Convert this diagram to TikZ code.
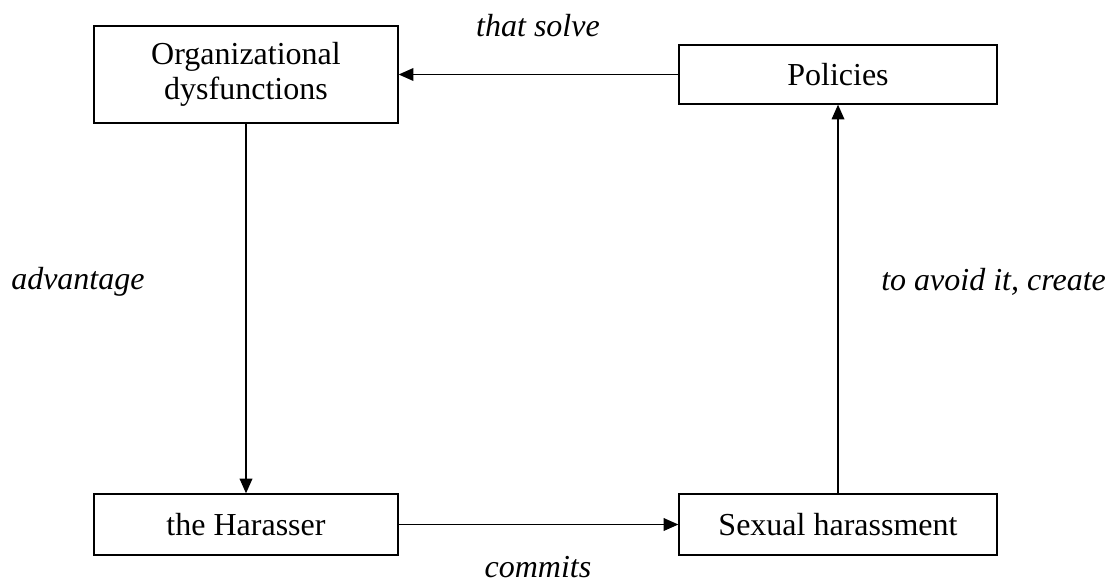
\documentclass[tikz,border=0pt]{standalone}
\usepackage{fontspec}
\setmainfont{Liberation Serif}
\usetikzlibrary{arrows.meta}
\begin{document}
\begin{tikzpicture}[x=0.75pt,y=-0.75pt,
  box/.style={draw,line width=1pt,inner sep=0pt,font=\fontsize{24}{26.5}\selectfont,align=center},
  lbl/.style={font=\fontsize{24}{26}\selectfont\itshape,inner sep=0pt},
  conn/.style={line width=1pt,-{Triangle[length=11pt,width=9.5pt]}}]
\useasboundingbox (0,0) rectangle (1112,585);
\node[box,minimum width=304*0.75pt,minimum height=97*0.75pt] (org) at (246,74.5) {Organizational\\dysfunctions};
\node[box,minimum width=318*0.75pt,minimum height=59*0.75pt] (pol) at (838,74.5) {Policies};
\node[box,minimum width=304*0.75pt,minimum height=61*0.75pt] (har) at (246,524.5) {the Harasser};
\node[box,minimum width=318*0.75pt,minimum height=61*0.75pt] (sex) at (838,524.5) {Sexual harassment};
\draw[conn] (pol.west) -- (org.east);
\draw[conn] (org.south) -- (har.north);
\draw[conn] (har.east) -- (sex.west);
\draw[conn] (sex.north) -- (pol.south);
\node[lbl] (l1) at (538,26) {that solve};
\node[lbl] (l2) at (538,567) {commits};
\node[lbl,anchor=west] (l3) at (11,282) {advantage};
\node[lbl,anchor=west] (l4) at (881,282) {to avoid it, create};
\end{tikzpicture}
\end{document}
